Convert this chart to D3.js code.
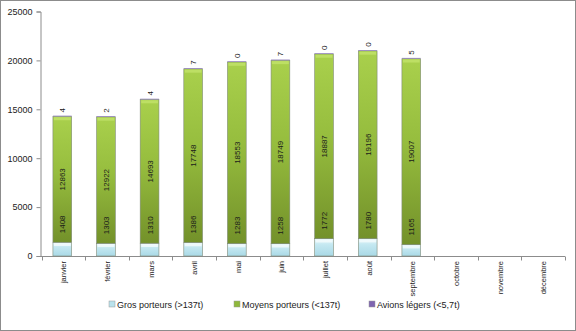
<!DOCTYPE html>
<html>
<head>
<meta charset="utf-8">
<script src="https://cdn.jsdelivr.net/npm/d3@7"></script>
<style>
  html, body { margin: 0; padding: 0; background: #fff; }
  svg { display: block; font-family: "Liberation Sans", Arial, sans-serif; }
</style>
</head>
<body>
<svg id="chart" width="576" height="331"></svg>
<script>
// Monthly movements by aircraft category
const months = ["janvier", "février", "mars", "avril", "mai", "juin", "juillet", "août",
                "septembre", "octobre", "novembre", "décembre"];
const grosPorteurs   = [1408, 1303, 1310, 1386, 1283, 1258, 1772, 1780, 1165];
const moyensPorteurs = [12863, 12922, 14693, 17748, 18553, 18749, 18887, 19196, 19007];
const avionsLegers   = [4, 2, 4, 7, 0, 7, 0, 0, 5];
const yTicks = [0, 5000, 10000, 15000, 20000, 25000];
const seriesNames = ["Gros porteurs (>137t)", "Moyens porteurs (<137t)", "Avions légers (<5,7t)"];

const svg = d3.select("#chart");
const W = 576, H = 331;

// outer frame
svg.append("rect").attr("x", 0.5).attr("y", 0.5).attr("width", W - 1).attr("height", H - 1)
  .attr("fill", "#fff").attr("stroke", "#8c8c8c");

const defs = svg.append("defs");
function vGrad(id, stops) {
  const g = defs.append("linearGradient").attr("id", id)
    .attr("x1", 0).attr("y1", 0).attr("x2", 0).attr("y2", 1);
  stops.forEach(s => g.append("stop").attr("offset", s[0]).attr("stop-color", s[1]));
}
vGrad("gGreen", [[0, "#a9d04c"], [0.45, "#96bd3e"], [1, "#73912a"]]);
vGrad("gBlue", [[0, "#e4f5f9"], [0.35, "#c4e8f1"], [1, "#a9d9e6"]]);
vGrad("gPurple", [[0, "#a596c8"], [1, "#8a78b8"]]);

const colors = ["url(#gBlue)", "url(#gGreen)", "url(#gPurple)"];
const legendColors = ["#b9e2ec", "#8fb83b", "#7e64b0"];

const x = d3.scaleBand().domain(months).range([41.5, 565]).padding(0);
const y = d3.scaleLinear().domain([0, 25000]).range([256, 11.5]);
const barFrac = 0.43;
const barW = x.bandwidth() * barFrac;

// stacked data
const rows = grosPorteurs.map((g, i) => ({
  month: months[i], gros: g, moyens: moyensPorteurs[i], legers: avionsLegers[i]
}));
const stack = d3.stack().keys(["gros", "moyens", "legers"]);
const layers = stack(rows);

// y axis
const yAxis = d3.axisLeft(y).tickValues(yTicks).tickSize(4).tickPadding(4).tickFormat(d3.format("d"));
const gy = svg.append("g").attr("transform", "translate(40.5,0)").call(yAxis);
gy.select(".domain").attr("stroke", "#8c8c8c");
gy.selectAll(".tick line").attr("stroke", "#8c8c8c");
gy.selectAll(".tick text").attr("fill", "#222").attr("font-size", 9).attr("font-family", "Liberation Sans, Arial, sans-serif");

// x axis with ticks at category boundaries
svg.append("line").attr("x1", 40.5).attr("x2", 565).attr("y1", 256.5).attr("y2", 256.5)
  .attr("stroke", "#8c8c8c");
svg.append("g").selectAll("line").data(months.concat(["__end"])).join("line")
  .attr("x1", (d, i) => Math.round(x.range()[0] + i * x.step()) + 0.5)
  .attr("x2", (d, i) => Math.round(x.range()[0] + i * x.step()) + 0.5)
  .attr("y1", 256.5).attr("y2", 260.5).attr("stroke", "#8c8c8c");
svg.append("g").selectAll("text").data(months).join("text")
  .attr("transform", d => `translate(${x(d) + x.bandwidth() / 2 + 3},261) rotate(-90)`)
  .attr("text-anchor", "end").attr("font-size", 7.5).attr("fill", "#222")
  .text(d => d);

// bars
const barX = d => x(d.data.month) + (x.bandwidth() - barW) / 2 - 1;
layers.forEach((layer, li) => {
  const g = svg.append("g");
  g.selectAll("rect").data(layer).join("rect")
    .attr("x", barX)
    .attr("y", d => y(d[1]) - (li === 2 ? 0.8 : 0))
    .attr("width", barW)
    .attr("height", d => Math.max(y(d[0]) - y(d[1]), li === 2 ? 0.8 : 0))
    .attr("fill", colors[li])
    .attr("stroke", li === 2 ? "none" : "#7f8a78").attr("stroke-width", 0.6);
  if (li < 2) {
    // bevel highlight along the top of each segment
    g.selectAll("rect.hl").data(layer).join("rect").attr("class", "hl")
      .attr("x", d => barX(d) + 1).attr("y", d => y(d[1]) + 0.8)
      .attr("width", barW - 2).attr("height", 3)
      .attr("fill", li === 0 ? "#f4fbfd" : "#c2e26a").attr("opacity", 0.8);
  }
});

// value labels
const lbl = svg.append("g").attr("font-size", 8).attr("fill", "#1a1a1a");
rows.forEach(d => {
  const cx = x(d.month) + x.bandwidth() / 2 + 2;
  const blueTop = y(d.gros);
  const greenTop = y(d.gros + d.moyens);
  const top = y(d.gros + d.moyens + d.legers);
  lbl.append("text").attr("transform", `translate(${cx},${blueTop - 9}) rotate(-90)`)
    .attr("text-anchor", "start").text(d.gros);
  lbl.append("text").attr("transform", `translate(${cx},${(blueTop + greenTop) / 2}) rotate(-90)`)
    .attr("text-anchor", "middle").text(d.moyens);
  lbl.append("text").attr("transform", `translate(${cx},${top - 4}) rotate(-90)`)
    .attr("text-anchor", "start").text(d.legers);
});

// legend
const legendX = [109, 234, 369];
const lg = svg.append("g").attr("font-size", 9).attr("fill", "#222");
seriesNames.forEach((name, i) => {
  lg.append("rect").attr("x", legendX[i]).attr("y", 301).attr("width", 6).attr("height", 6)
    .attr("fill", legendColors[i]).attr("stroke", "#9a9a9a").attr("stroke-width", 0.5);
  lg.append("text").attr("x", legendX[i] + 8).attr("y", 307.5).text(name);
});
</script>
</body>
</html>
